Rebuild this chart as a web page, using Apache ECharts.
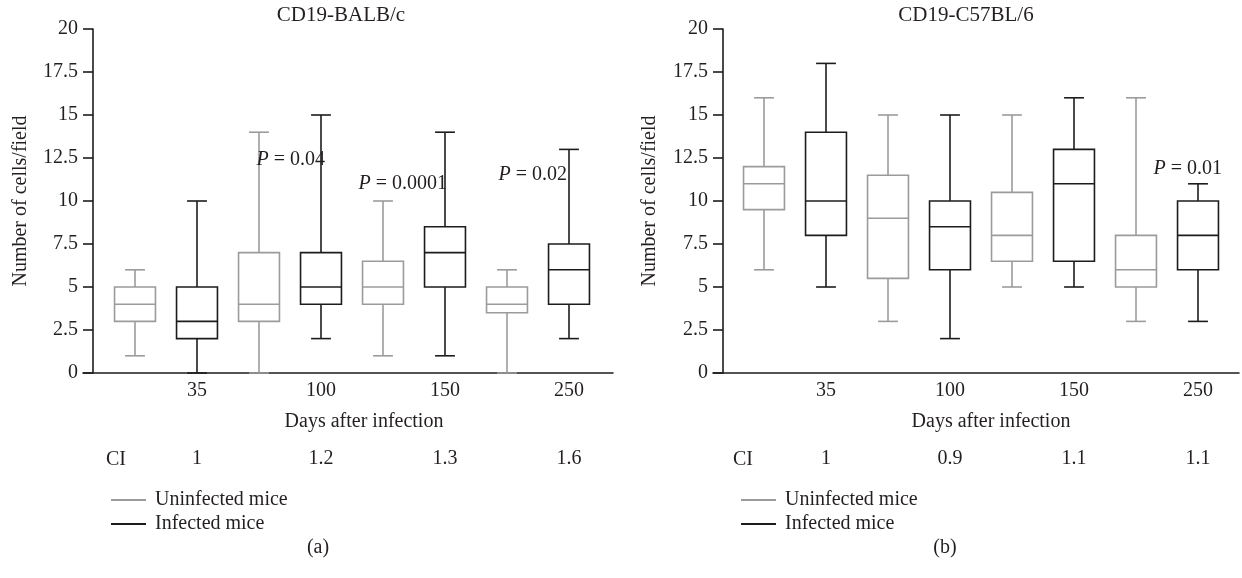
<!DOCTYPE html>
<html>
<head>
<meta charset="utf-8">
<script src="https://cdn.jsdelivr.net/npm/echarts@6/dist/echarts.min.js"></script>
<style>
  html, body { margin: 0; padding: 0; background: #fff; }
  #main { width: 1242px; height: 578px; }
</style>
</head>
<body>
<div id="main"></div>
<script>
// days after infection (x categories)
const days = ['35', '100', '150', '250'];
// box values per day: [min, Q1, median, Q3, max]
const balbUninfected = [[1, 3, 4, 5, 6], [0, 3, 4, 7, 14], [1, 4, 5, 6.5, 10], [0, 3.5, 4, 5, 6]];
const balbInfected   = [[0, 2, 3, 5, 10], [2, 4, 5, 7, 15], [1, 5, 7, 8.5, 14], [2, 4, 6, 7.5, 13]];
const c57Uninfected  = [[6, 9.5, 11, 12, 16], [3, 5.5, 9, 11.5, 15], [5, 6.5, 8, 10.5, 15], [3, 5, 6, 8, 16]];
const c57Infected    = [[5, 8, 10, 14, 18], [2, 6, 8.5, 10, 15], [5, 6.5, 11, 13, 16], [3, 6, 8, 10, 11]];
// CI row
const balbCI = ['1', '1.2', '1.3', '1.6'];
const c57CI  = ['1', '0.9', '1.1', '1.1'];
// P value notes: [day, y level, value]
const balbP = [['100', 12.4, '0.04'], ['150', 11, '0.0001'], ['250', 11.5, '0.02']];
const c57P  = [['250', 11.9, '0.01']];
// y axis
const yMin = 0, yMax = 20, yStep = 2.5;

// horizontal nudge of each P note (px, from right end to box centre)
const pNudge = [[4, 2, -2], [24]];

const FONT = '"Liberation Serif", "Times New Roman", serif';
const FS = 20;
const INK = '#231f20';
const BLACK = '#1c1c1c';
const GRAY = '#9b9b9b';

const slots = [];
days.forEach(d => { slots.push(d + '-u'); slots.push(d + '-i'); });

function boxData(arr, infected) {
  return arr.map((v, i) => [i * 2 + (infected ? 1 : 0)].concat(v));
}

function renderBox(params, api) {
  const slot = api.value(0);
  const pt = k => api.coord([slot, api.value(k)]);
  const lo = pt(1), q1 = pt(2), md = pt(3), q3 = pt(4), hi = pt(5);
  const band = api.size([1, 0])[0];
  const hw = band * 0.33, cw = band * 0.16;
  const x = lo[0];
  const color = api.visual('color');
  const st = { stroke: color, lineWidth: 1.6, fill: null };
  return {
    type: 'group',
    children: [
      { type: 'line', shape: { x1: x, y1: hi[1], x2: x, y2: q3[1] }, style: st },
      { type: 'line', shape: { x1: x, y1: q1[1], x2: x, y2: lo[1] }, style: st },
      { type: 'line', shape: { x1: x - cw, y1: hi[1], x2: x + cw, y2: hi[1] }, style: st },
      { type: 'line', shape: { x1: x - cw, y1: lo[1], x2: x + cw, y2: lo[1] }, style: st },
      { type: 'rect', shape: { x: x - hw, y: q3[1], width: hw * 2, height: q1[1] - q3[1] },
        style: { stroke: color, lineWidth: 1.6, fill: '#fff' } },
      { type: 'line', shape: { x1: x - hw, y1: md[1], x2: x + hw, y2: md[1] }, style: st }
    ]
  };
}

function pSeries(list, nudge, xi, yi) {
  return {
    type: 'custom',
    xAxisIndex: xi, yAxisIndex: yi,
    silent: true,
    data: list.map((p, i) => [days.indexOf(p[0]) * 2 + 1, p[1], i]),
    renderItem: function (params, api) {
      const c = api.coord([api.value(0), api.value(1)]);
      const idx = api.value(2);
      return {
        type: 'text',
        x: c[0] + nudge[idx], y: c[1],
        style: {
          text: '{i|P} = ' + list[idx][2],
          align: 'right', verticalAlign: 'middle',
          font: FS + 'px ' + FONT, fill: INK,
          rich: { i: { fontStyle: 'italic', fontSize: FS, fontFamily: FONT, fill: INK } }
        }
      };
    }
  };
}

// panel geometry
const plotTop = 29, plotH = 344;
const panels = [
  { lineLeft: 83, lineW: 530, boxLeft: 104, boxW: 496, yOffset: 11, nameGap: 62, namePad: 24 },
  { lineLeft: 713, lineW: 526, boxLeft: 733, boxW: 496, yOffset: 10, nameGap: 63, namePad: 20 }
];

const grid = [], xAxis = [], yAxis = [];
panels.forEach((p, k) => {
  grid.push({ left: p.lineLeft, top: plotTop, width: p.lineW, height: plotH, outerBoundsMode: 'none' });
  grid.push({ left: p.boxLeft, top: plotTop, width: p.boxW, height: plotH, outerBoundsMode: 'none' });
  const gA = k * 2, gB = k * 2 + 1;
  const ci = k === 0 ? balbCI : c57CI;
  // plain axis line
  xAxis.push({
    type: 'value', gridIndex: gA, min: 0, max: 1,
    axisLine: { show: true, lineStyle: { color: BLACK, width: 1.6 } },
    axisTick: { show: false }, axisLabel: { show: false }, splitLine: { show: false }
  });
  // day labels under the infected boxes
  xAxis.push({
    type: 'category', gridIndex: gB, data: slots,
    axisLine: { show: false }, axisTick: { show: false }, splitLine: { show: false },
    axisLabel: {
      interval: 0, margin: 8, fontFamily: FONT, fontSize: FS, color: INK,
      formatter: (v, i) => (i % 2 === 1 ? days[(i - 1) / 2] : '')
    },
    name: 'Days after infection', nameLocation: 'middle', nameGap: 39,
    nameTextStyle: { fontFamily: FONT, fontSize: FS, color: INK, padding: [0, 0, 0, p.namePad] }
  });
  // CI row
  xAxis.push({
    type: 'category', gridIndex: gB, data: slots, position: 'bottom', offset: 68,
    axisLine: { show: false }, axisTick: { show: false }, splitLine: { show: false },
    axisLabel: {
      interval: 0, margin: 8, fontFamily: FONT, fontSize: FS, color: INK,
      formatter: (v, i) => (i % 2 === 1 ? ci[(i - 1) / 2] : '')
    }
  });
  yAxis.push({ type: 'value', gridIndex: gA, min: yMin, max: yMax, show: false });
  yAxis.push({
    type: 'value', gridIndex: gB, min: yMin, max: yMax, interval: yStep, offset: p.yOffset,
    axisLine: { show: true, lineStyle: { color: BLACK, width: 1.6 } },
    axisTick: { show: true, length: 10, lineStyle: { color: BLACK, width: 1.6 } },
    axisLabel: { margin: 15, fontFamily: FONT, fontSize: FS, color: INK },
    splitLine: { show: false },
    name: 'Number of cells/field', nameLocation: 'middle', nameGap: p.nameGap,
    nameTextStyle: { fontFamily: FONT, fontSize: FS, color: INK }
  });
});

const series = [
  { name: 'Uninfected mice', type: 'custom', xAxisIndex: 1, yAxisIndex: 1, itemStyle: { color: GRAY },
    encode: { x: 0, y: [1, 2, 3, 4, 5] }, data: boxData(balbUninfected, false), renderItem: renderBox },
  { name: 'Infected mice', type: 'custom', xAxisIndex: 1, yAxisIndex: 1, itemStyle: { color: BLACK },
    encode: { x: 0, y: [1, 2, 3, 4, 5] }, data: boxData(balbInfected, true), renderItem: renderBox },
  { name: 'Uninfected mice', type: 'custom', xAxisIndex: 4, yAxisIndex: 3, itemStyle: { color: GRAY },
    encode: { x: 0, y: [1, 2, 3, 4, 5] }, data: boxData(c57Uninfected, false), renderItem: renderBox },
  { name: 'Infected mice', type: 'custom', xAxisIndex: 4, yAxisIndex: 3, itemStyle: { color: BLACK },
    encode: { x: 0, y: [1, 2, 3, 4, 5] }, data: boxData(c57Infected, true), renderItem: renderBox },
  pSeries(balbP, pNudge[0], 1, 1),
  pSeries(c57P, pNudge[1], 4, 3)
];

function legendAt(left) {
  return {
    left: left, top: 485, orient: 'vertical', icon: 'rect',
    itemWidth: 35, itemHeight: 2, itemGap: 4, selectedMode: false,
    data: ['Uninfected mice', 'Infected mice'],
    textStyle: { fontFamily: FONT, fontSize: FS, color: INK, padding: [0, 0, 0, 4] }
  };
}

function label(text, x, y, size) {
  return {
    type: 'text', x: x, y: y, silent: true,
    style: { text: text, align: 'center', verticalAlign: 'middle', font: (size || FS) + 'px ' + FONT, fill: INK }
  };
}

const chart = echarts.init(document.getElementById('main'), null, { renderer: 'canvas' });
chart.setOption({
  backgroundColor: '#fff',
  animation: false,
  grid: grid,
  xAxis: xAxis,
  yAxis: yAxis,
  legend: [legendAt(106), legendAt(736)],
  graphic: [
    label('CD19-BALB/c', 341, 15, 21),
    label('CD19-C57BL/6', 966, 15, 21),
    label('CI', 116, 460),
    label('CI', 743, 460),
    label('(a)', 318, 548),
    label('(b)', 945, 548)
  ],
  series: series
});
</script>
</body>
</html>
